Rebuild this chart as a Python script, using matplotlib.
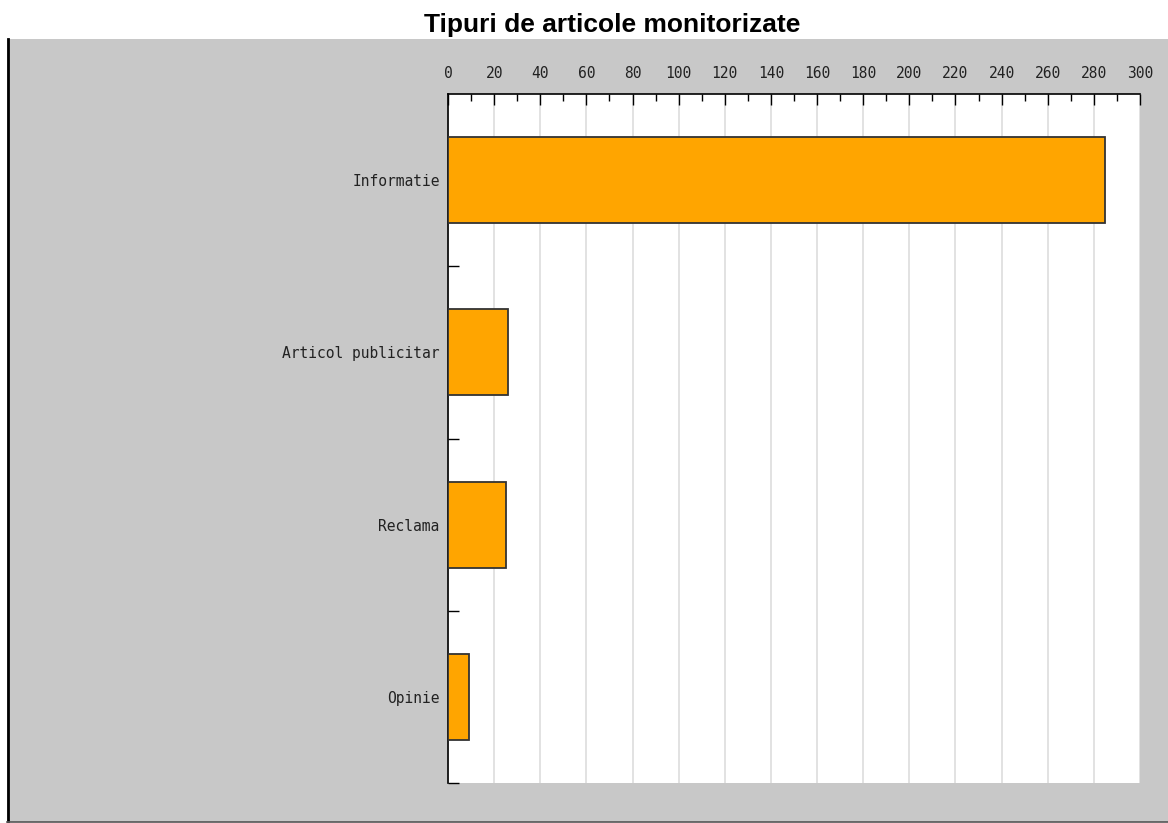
import matplotlib.pyplot as plt
from matplotlib.patches import Rectangle
from matplotlib.lines import Line2D
import numpy as np

categories = ["Informatie", "Articol publicitar", "Reclama", "Opinie"]
counts = [285, 26, 25, 9]
title = "Tipuri de articole monitorizate"

W, H = 1168, 823
fig = plt.figure(figsize=(W / 100, H / 100), dpi=100, facecolor="white")

# grey panel behind the chart
fig.patches.append(Rectangle((7 / W, 1 - 822 / H), 1 - 7 / W, (822 - 39) / H,
                             transform=fig.transFigure, facecolor="#c8c8c8",
                             edgecolor="none", zorder=0))
fig.add_artist(Line2D([8 / W, 8 / W], [1 - 822 / H, 1 - 39 / H], color="black", lw=2, zorder=1))
fig.add_artist(Line2D([7 / W, 1], [1 - 822 / H, 1 - 822 / H], color="#555555", lw=1.2, zorder=1))

ax = fig.add_axes([448 / W, 1 - 783 / H, (1140 - 448) / W, (783 - 94) / H], zorder=5)
ax.set_facecolor("white")

y = np.arange(len(categories))
ax.barh(y, counts, height=0.5, color="#ffa500", edgecolor="#333333", lw=1.3, zorder=3)

ax.set_xlim(0, 300)
ax.set_ylim(len(categories) - 0.5, -0.5)
ax.xaxis.tick_top()
ax.set_xticks(np.arange(0, 301, 20))
ax.set_xticks(np.arange(10, 300, 20), minor=True)
ax.tick_params(axis="x", which="major", direction="in", length=8, width=1,
               pad=9, labelsize=10.5, labelcolor="#222222")
ax.tick_params(axis="x", which="minor", direction="in", length=5, width=1)
for lab in ax.get_xticklabels():
    lab.set_family("DejaVu Sans Mono")
ax.grid(axis="x", which="major", color="#dddddd", lw=1.2, zorder=0)

ax.set_yticks(y)
ax.set_yticklabels(categories, family="DejaVu Sans Mono", fontsize=10.5, color="#222222")
ax.set_yticks(np.arange(0.5, len(categories)), minor=True)
ax.tick_params(axis="y", which="major", length=0, pad=6)
ax.tick_params(axis="y", which="minor", direction="in", length=8, width=1)

for s in ("right", "bottom"):
    ax.spines[s].set_visible(False)
ax.spines["top"].set_linewidth(1.2)
ax.spines["left"].set_linewidth(1.2)

fig.text(612 / W, 1 - 32 / H, title, ha="center", va="baseline",
         fontsize=19, fontweight="bold", family="Liberation Sans")

fig.savefig("out.png", dpi=100, facecolor="white")
